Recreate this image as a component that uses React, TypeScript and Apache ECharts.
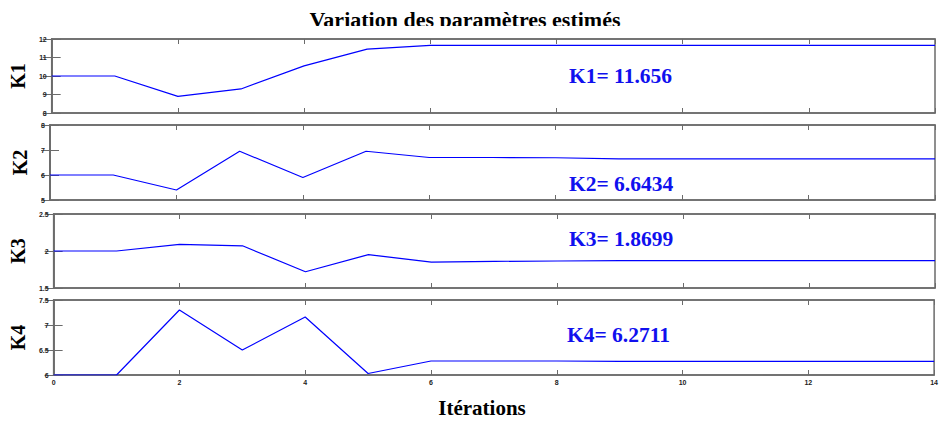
import React, { useEffect, useRef } from "react";
import * as echarts from "echarts";

const iterations = [0, 1, 2, 3, 4, 5, 6, 7, 8, 9, 10, 11, 12, 13, 14];
const k1Values = [10, 10, 8.9, 9.3, 10.55, 11.45, 11.656, 11.656, 11.656, 11.656, 11.656, 11.656, 11.656, 11.656, 11.656];
const k2Values = [6.0, 6.0, 5.4, 6.95, 5.9, 6.95, 6.7, 6.7, 6.69, 6.6434, 6.6434, 6.6434, 6.6434, 6.6434, 6.6434];
const k3Values = [2.0, 2.0, 2.09, 2.07, 1.72, 1.95, 1.85, 1.86, 1.865, 1.8699, 1.8699, 1.8699, 1.8699, 1.8699, 1.8699];
const k4Values = [6.0, 6.0, 7.3, 6.5, 7.16, 6.03, 6.28, 6.28, 6.28, 6.2711, 6.2711, 6.2711, 6.2711, 6.2711, 6.2711];

const panelNames = ["K1", "K2", "K3", "K4"];
const yMins = [8, 5, 1.5, 6];
const yMaxs = [12, 8, 2.5, 7.5];
const yIntervals = [1, 1, 0.5, 0.5];
const annotations = ["K1= 11.656", "K2= 6.6434", "K3= 1.8699", "K4= 6.2711"];

const xMin = 0;
const xMax = 14;
const xInterval = 2;

export default function App() {
  const ref = useRef<HTMLDivElement>(null);
  useEffect(() => {
    document.body.style.margin = "0";
    const chart = echarts.init(ref.current!, null, { renderer: "svg" });
    const allValues = [k1Values, k2Values, k3Values, k4Values];
    const tops = [39, 125, 214, 300];
    const heights = [74, 75, 74, 75];
    const annPos = [
      [569, 65],
      [569, 173],
      [569, 228],
      [567, 324],
    ];
    const frame = "#6b6b6b";
    const grids = tops.map((t, i) => ({
      left: 50,
      right: 6,
      top: t,
      height: heights[i],
      show: true,
      borderColor: frame,
      borderWidth: 1.5,
      backgroundColor: "#fff",
    }));
    const xAxes: any[] = [];
    const yAxes: any[] = [];
    const series: any[] = [];
    allValues.forEach((vals, i) => {
      const last = i === 3;
      xAxes.push({
        type: "value",
        gridIndex: i,
        min: xMin,
        max: xMax,
        interval: xInterval,
        position: "bottom",
        axisLine: { show: true, lineStyle: { color: frame, width: 1.5 } },
        axisTick: { show: true, inside: true, length: 5, lineStyle: { color: frame } },
        axisLabel: {
          show: last,
          fontSize: 7,
          fontWeight: "bold",
          color: "#222",
          margin: 4,
        },
        splitLine: { show: false },
      });
      xAxes.push({
        type: "value",
        gridIndex: i,
        min: xMin,
        max: xMax,
        interval: xInterval,
        position: "top",
        axisLine: { show: true, lineStyle: { color: frame, width: 1.5 } },
        axisTick: { show: true, inside: true, length: 5, lineStyle: { color: frame } },
        axisLabel: { show: false },
        splitLine: { show: false },
      });
      yAxes.push({
        type: "value",
        gridIndex: i,
        min: yMins[i],
        max: yMaxs[i],
        interval: yIntervals[i],
        position: "left",
        name: panelNames[i],
        nameLocation: "middle",
        nameRotate: 90,
        nameGap: 19,
        nameTextStyle: {
          fontFamily: "Liberation Serif",
          fontWeight: "bold",
          fontSize: 20,
          color: "#000",
        },
        axisLine: { show: true, lineStyle: { color: frame, width: 1.5 } },
        axisTick: { show: true, inside: true, length: 9, lineStyle: { color: frame } },
        axisLabel: { fontSize: 7, fontWeight: "bold", color: "#222", margin: 5 },
        splitLine: { show: false },
      });
      yAxes.push({
        type: "value",
        gridIndex: i,
        min: yMins[i],
        max: yMaxs[i],
        interval: yIntervals[i],
        position: "right",
        axisLine: { show: true, lineStyle: { color: frame, width: 1.5 } },
        axisTick: { show: true, inside: true, length: 9, lineStyle: { color: frame } },
        axisLabel: { show: false },
        splitLine: { show: false },
      });
      series.push({
        type: "line",
        xAxisIndex: i * 2,
        yAxisIndex: i * 2,
        data: iterations.map((x, j) => [x, vals[j]]),
        symbol: "none",
        lineStyle: { color: "#0000ff", width: 1.2 },
      });
    });
    const graphic: any[] = annotations.map((a, i) => ({
      type: "text",
      left: annPos[i][0],
      top: annPos[i][1],
      z: 50,
      style: {
        text: a,
        fill: "#1010ee",
        font: "bold 21.5px 'Liberation Serif'",
      },
    }));
    graphic.push({
      type: "rect",
      z: 100,
      shape: { x: 290, y: 26, width: 350, height: 12 },
      style: { fill: "#fff" },
    });
    chart.setOption({
      animation: false,
      title: [
        {
          text: "Variation des paramètres estimés",
          left: 460,
          top: 3,
          textAlign: "center",
          textStyle: {
            fontFamily: "Liberation Serif",
            fontWeight: "bold",
            fontSize: 22,
            color: "#000",
          },
        },
        {
          text: "Itérations",
          left: 477,
          top: 392,
          textAlign: "center",
          textStyle: {
            fontFamily: "Liberation Serif",
            fontWeight: "bold",
            fontSize: 21,
            color: "#000",
          },
        },
      ],
      grid: grids,
      xAxis: xAxes,
      yAxis: yAxes,
      series,
      graphic,
    });
    return () => chart.dispose();
  }, []);
  return <div ref={ref} style={{ width: 941, height: 421 }} />;
}
